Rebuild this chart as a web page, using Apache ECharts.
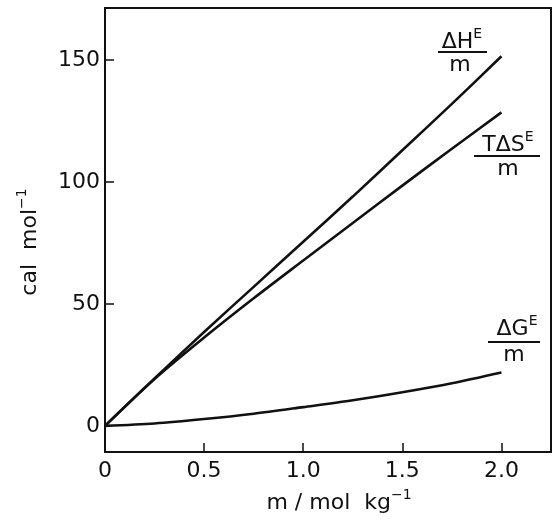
<!DOCTYPE html>
<html>
<head>
<meta charset="utf-8">
<script src="https://cdn.jsdelivr.net/npm/echarts@6/dist/echarts.min.js"></script>
<style>
html,body{margin:0;padding:0;background:#fff;}
#c{width:556px;height:526px;}
</style>
</head>
<body>
<div id="c"></div>
<script>
// Data
const molality = [0, 0.25, 0.5, 0.75, 1.0, 1.25, 1.5, 1.75, 2.0];
const dH_over_m = [0, 19.5, 38.5, 57, 75.5, 94, 113, 132, 151.5];
const TdS_over_m = [0, 19.2, 36.2, 52.3, 67.8, 83.2, 98.5, 113.6, 128.5];
const dG_over_m = [0, 1, 2.8, 5, 7.7, 10.5, 13.8, 17.5, 21.9];
const xTicks = [0, 0.5, 1.0, 1.5, 2.0];
const yTicks = [0, 50, 100, 150];

const FONT = 'DejaVu Sans';
const INK = '#111';

function pairs(xs, ys) { return xs.map((x, i) => [x, ys[i]]); }

const chart = echarts.init(document.getElementById('c'), null, {renderer: 'canvas'});

function lineSeries(name, ys) {
  return {
    name: name,
    type: 'line',
    data: pairs(molality, ys),
    smooth: 0.3,
    showSymbol: false,
    symbol: 'none',
    lineStyle: {color: INK, width: 2.6},
    silent: true
  };
}

const richStyles = {
  b: {font: '22px "' + FONT + '"', fill: INK, lineHeight: 26, verticalAlign: 'bottom'},
  s: {font: '14px "' + FONT + '"', fill: INK, lineHeight: 26, verticalAlign: 'top'}
};

function txt(text, x, y, rot) {
  const el = {type: 'text', x: x, y: y, style: {text: text, fill: INK, font: '22px "' + FONT + '"', align: 'center', verticalAlign: 'middle', rich: richStyles}};
  if (rot) el.rotation = rot;
  return el;
}

function fracLabel(top, cx, cy, x1, x2, barY, mcx, mcy) {
  return [
    txt(top, cx, cy),
    {type: 'line', shape: {x1: x1, y1: barY, x2: x2, y2: barY}, style: {stroke: INK, lineWidth: 2}},
    txt('m', mcx, mcy)
  ];
}

const option = {
  backgroundColor: '#fff',
  animation: false,
  grid: {left: 105, right: 5, top: 8, bottom: 74, show: true, borderColor: INK, borderWidth: 2, containLabel: false},
  xAxis: {
    type: 'value', min: 0, max: 2.25,
    axisLine: {show: true, onZero: false, lineStyle: {color: INK, width: 2}},
    axisTick: {show: true, inside: true, length: 9, lineStyle: {color: INK, width: 1.5}, customValues: xTicks.slice(1)},
    axisLabel: {customValues: xTicks, color: INK, fontFamily: FONT, fontSize: 22, margin: 8,
      formatter: v => v === 0 ? '0' : v.toFixed(1)},
    splitLine: {show: false}
  },
  yAxis: {
    type: 'value', min: -10.7, max: 171.3,
    axisLine: {show: true, onZero: false, lineStyle: {color: INK, width: 2}},
    axisTick: {show: true, inside: true, length: 9, lineStyle: {color: INK, width: 1.5}, customValues: yTicks.slice(1)},
    axisLabel: {customValues: yTicks, color: INK, fontFamily: FONT, fontSize: 22, margin: 5,
      formatter: v => String(Math.round(v))},
    splitLine: {show: false}
  },
  series: [
    lineSeries('dH', dH_over_m),
    lineSeries('TdS', TdS_over_m),
    lineSeries('dG', dG_over_m)
  ],
  graphic: [].concat(
    fracLabel('{b|ΔH}{s|E}', 462, 40, 438, 487, 52, 460, 65),
    fracLabel('{b|TΔS}{s|E}', 508, 143, 474, 540, 156, 508, 169),
    fracLabel('{b|ΔG}{s|E}', 517, 327, 488, 540, 342, 514, 355),
    [
      txt('{b|m / mol  kg}{s|−1}', 339, 501),
      txt('{b|cal  mol}{s|−1}', 28, 242, Math.PI / 2)
    ]
  )
};

chart.setOption(option);
</script>
</body>
</html>
